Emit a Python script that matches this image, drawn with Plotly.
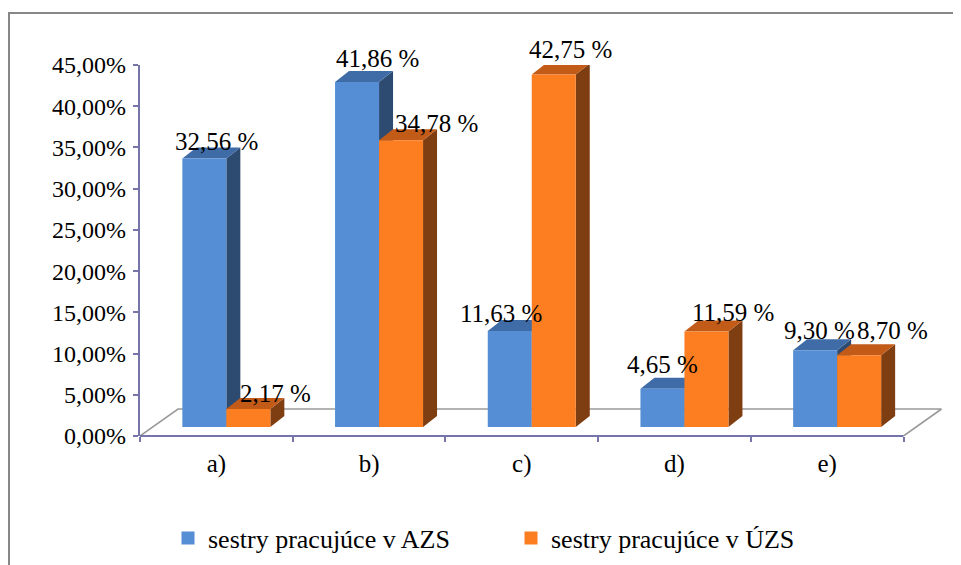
import plotly.graph_objects as go

# ---------------- data ----------------
categories = ["a)", "b)", "c)", "d)", "e)"]
series_names = ["sestry pracujúce v AZS", "sestry pracujúce v ÚZS"]
values_azs = [32.56, 41.86, 11.63, 4.65, 9.30]
values_uzs = [2.17, 34.78, 42.75, 11.59, 8.70]
y_tick_values = [0, 5, 10, 15, 20, 25, 30, 35, 40, 45]
y_tick_labels = ["0,00%", "5,00%", "10,00%", "15,00%", "20,00%",
                 "25,00%", "30,00%", "35,00%", "40,00%", "45,00%"]

# ---------------- style / geometry (pixel-based) ----------------
W, H = 961, 565
PAGE_OFF = 8                      # page body margin of the html page
REF_L, REF_T, REF_R, REF_B = 140, 65, 942, 436   # plot area as seen on screen
PLOT_W = REF_R - REF_L
PLOT_H = REF_B - REF_T
ML = REF_L - PAGE_OFF
MT = REF_T - PAGE_OFF
MR = W - ML - PLOT_W
MB = H - MT - PLOT_H
PX_PER_CAT = 152.7
Y_MAX = 45
PX_PER_PCT = PLOT_H / Y_MAX

def ux(px):
    return px / PX_PER_CAT

def uy(px):
    return px / PX_PER_PCT

def paper_x(px):
    return (px - REF_L) / PLOT_W

def paper_y(py):
    return (REF_B - py) / PLOT_H

BAR_W = ux(44)
PAIR_DX = ux(10)      # front face shift into depth
BASE = uy(9)
SIDE_DX, SIDE_DY = ux(14), uy(11)
FLOOR_DX, FLOOR_DY = ux(38), uy(27)
X0 = -0.5
X_END_AXIS = len(categories) - 0.5
X_MAX = X0 + PLOT_W / PX_PER_CAT

AXIS_COL = "#7575AA"
FLOOR_COL = "#9A9A9A"
FONT = "Liberation Serif"

colors = {
    0: dict(front="#558ED5", top="#3F6CA6", side="#2D4A70"),
    1: dict(front="#FD7E21", top="#C35B18", side="#7F3D12"),
}
# label offsets (px) mimicking the original label placement
label_dx = {0: [-2, 6, -23, -14, -10], 1: [13, 21, 3, 13, 19]}
label_dy = {0: [6, 12, 7, 13, 9], 1: [5, 6, 14, 8, 14]}

fig = go.Figure()

# floor outline (left, back, right edges)
fig.add_trace(go.Scatter(
    x=[X0, X0 + FLOOR_DX, X_END_AXIS + FLOOR_DX, X_END_AXIS],
    y=[0, FLOOR_DY, FLOOR_DY, 0],
    mode="lines", line=dict(color=FLOOR_COL, width=1.6),
    hoverinfo="skip", showlegend=False))

all_values = [values_azs, values_uzs]
for s, vals in enumerate(all_values):
    faces = {"side": ([], []), "top": ([], []), "front": ([], [])}
    for i, v in enumerate(vals):
        if s == 0:
            x0 = i + PAIR_DX - BAR_W
        else:
            x0 = i + PAIR_DX
        x1 = x0 + BAR_W
        b = BASE
        t = BASE + v
        fx, fy = faces["front"]
        fx += [x0, x1, x1, x0, x0, None]
        fy += [b, b, t, t, b, None]
        tx, ty = faces["top"]
        tx += [x0, x1, x1 + SIDE_DX, x0 + SIDE_DX, x0, None]
        ty += [t, t, t + SIDE_DY, t + SIDE_DY, t, None]
        sx, sy = faces["side"]
        sx += [x1, x1 + SIDE_DX, x1 + SIDE_DX, x1, x1, None]
        sy += [b, b + SIDE_DY, t + SIDE_DY, t, b, None]
    for face in ["side", "top", "front"]:
        fxs, fys = faces[face]
        fig.add_trace(go.Scatter(
            x=fxs, y=fys, mode="lines", fill="toself",
            fillcolor=colors[s][face], line=dict(width=0, color=colors[s][face]),
            hoverinfo="skip", showlegend=False))
    # data labels (y given as a fraction of the value axis so labels above 45 % stay visible)
    for i, v in enumerate(vals):
        if s == 0:
            xc = i + PAIR_DX - BAR_W / 2
        else:
            xc = i + PAIR_DX + BAR_W / 2
        fig.add_annotation(
            x=xc + SIDE_DX, y=(BASE + v + SIDE_DY) / Y_MAX, xref="x", yref="paper",
            text=f"{v:.2f}".replace(".", ",") + " %",
            showarrow=False, xanchor="center", yanchor="middle",
            xshift=label_dx[s][i], yshift=label_dy[s][i],
            font=dict(family=FONT, size=25, color="black"))

# legend entries
for s, name in enumerate(series_names):
    fig.add_trace(go.Scatter(
        x=[None], y=[None], mode="markers", name=name,
        marker=dict(symbol="square", size=13, color=colors[s]["front"]),
        showlegend=True))

# x axis line (front edge of floor) and border of chart area
shapes = [
    dict(type="line", xref="x", yref="paper", x0=X0, x1=X_END_AXIS, y0=0, y1=0,
         line=dict(color=AXIS_COL, width=2.2), layer="above"),
    dict(type="rect", xref="paper", yref="paper",
         x0=paper_x(9), x1=paper_x(980),
         y0=paper_y(590), y1=paper_y(13),
         line=dict(color="#878787", width=2), fillcolor="rgba(0,0,0,0)"),
]

fig.update_layout(
    template="none",
    width=W, height=H,
    margin=dict(l=ML, r=MR, t=MT, b=MB, pad=0, autoexpand=False),
    paper_bgcolor="white", plot_bgcolor="white",
    font=dict(family=FONT, color="black"),
    shapes=shapes,
    showlegend=True,
    legend=dict(orientation="h", x=paper_x(168), xanchor="left",
                y=paper_y(538), yanchor="middle",
                font=dict(family=FONT, size=26, color="black"),
                entrywidth=298, entrywidthmode="pixels",
                bgcolor="rgba(0,0,0,0)", borderwidth=0),
    xaxis=dict(range=[X0, X_MAX], showgrid=False, zeroline=False, showline=False,
               automargin=False,
               tickmode="array", tickvals=list(range(len(categories))),
               ticktext=categories, ticks="outside", ticklen=5,
               tickcolor="rgba(0,0,0,0)",
               tickfont=dict(family=FONT, size=25, color="black"),
               minor=dict(tickmode="array",
                          tickvals=[k - 0.5 for k in range(len(categories) + 1)],
                          ticks="outside", ticklen=5, tickwidth=1.5,
                          tickcolor=AXIS_COL, showgrid=False),
               fixedrange=True),
    yaxis=dict(range=[0, Y_MAX], showgrid=False, zeroline=False, showline=True,
               automargin=False,
               linecolor=AXIS_COL, linewidth=2.2,
               tickmode="array", tickvals=y_tick_values, ticktext=y_tick_labels,
               ticks="outside", ticklen=5, tickwidth=1.5, tickcolor=AXIS_COL,
               ticklabelstandoff=2,
               tickfont=dict(family=FONT, size=24, color="black"),
               fixedrange=True),
)

fig.write_html("out.html")
